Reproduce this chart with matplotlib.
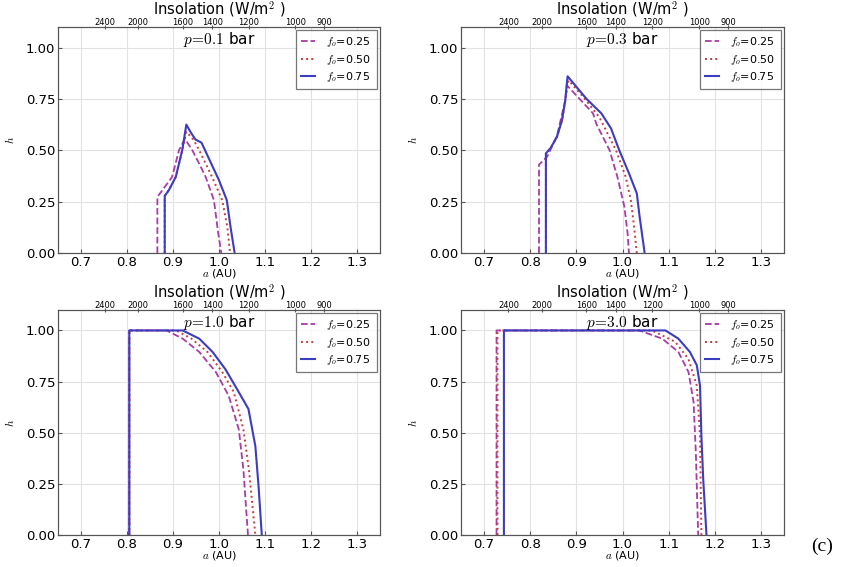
import numpy as np
import matplotlib
matplotlib.use('Agg')
from matplotlib import pyplot as plt
from matplotlib.ticker import FormatStrFormatter

plt.rcParams['mathtext.fontset'] = 'cm'
plt.rcParams['font.family'] = 'DejaVu Sans'

# solar constant used for the insolation axis
S0 = 1360.0
insol_ticks = [2400, 2000, 1600, 1400, 1200, 1000, 900]

fo_labels = ['0.25', '0.50', '0.75']

# p = 0.1 bar
a_p01_f025 = [0.866, 0.866, 0.875, 0.898, 0.913, 0.926, 0.942, 0.958, 0.971, 0.989, 0.998, 1.005]
h_p01_f025 = [0.0, 0.273, 0.30, 0.37, 0.50, 0.555, 0.50, 0.43, 0.37, 0.257, 0.10, 0.0]
a_p01_f050 = [0.882, 0.882, 0.891, 0.906, 0.920, 0.929, 0.945, 0.957, 0.985, 1.007, 1.018, 1.024]
h_p01_f050 = [0.0, 0.278, 0.306, 0.37, 0.50, 0.59, 0.55, 0.50, 0.37, 0.257, 0.128, 0.0]
a_p01_f075 = [0.882, 0.882, 0.891, 0.906, 0.920, 0.929, 0.938, 0.949, 0.962, 0.978, 1.000, 1.017, 1.025, 1.034]
h_p01_f075 = [0.0, 0.278, 0.306, 0.37, 0.50, 0.625, 0.589, 0.552, 0.537, 0.46, 0.354, 0.257, 0.128, 0.0]

# p = 0.3 bar
a_p03_f025 = [0.819, 0.819, 0.826, 0.837, 0.858, 0.876, 0.879, 0.907, 0.936, 0.943, 0.972, 0.989, 1.004, 1.011, 1.014]
h_p03_f025 = [0.0, 0.43, 0.445, 0.47, 0.57, 0.744, 0.817, 0.75, 0.68, 0.63, 0.50, 0.37, 0.226, 0.097, 0.0]
a_p03_f050 = [0.834, 0.834, 0.844, 0.858, 0.869, 0.876, 0.883, 0.915, 0.950, 0.986, 1.007, 1.018, 1.025, 1.031]
h_p03_f050 = [0.0, 0.485, 0.51, 0.566, 0.647, 0.744, 0.84, 0.76, 0.66, 0.50, 0.37, 0.258, 0.13, 0.0]
a_p03_f075 = [0.834, 0.834, 0.844, 0.858, 0.869, 0.876, 0.881, 0.922, 0.954, 0.975, 0.993, 1.014, 1.031, 1.037, 1.048]
h_p03_f075 = [0.0, 0.485, 0.51, 0.566, 0.647, 0.744, 0.86, 0.75, 0.68, 0.607, 0.50, 0.388, 0.29, 0.178, 0.0]

# p = 1.0 bar
a_p10_f025 = [0.805, 0.805, 0.886, 0.921, 0.957, 0.993, 1.021, 1.043, 1.053, 1.063]
h_p10_f025 = [0.0, 1.0, 1.0, 0.96, 0.895, 0.797, 0.681, 0.517, 0.32, 0.0]
a_p10_f050 = [0.805, 0.805, 0.907, 0.940, 0.975, 1.007, 1.032, 1.053, 1.065, 1.079]
h_p10_f050 = [0.0, 1.0, 1.0, 0.96, 0.895, 0.797, 0.70, 0.517, 0.32, 0.0]
a_p10_f075 = [0.805, 0.805, 0.921, 0.957, 0.986, 1.014, 1.039, 1.064, 1.079, 1.086, 1.093]
h_p10_f075 = [0.0, 1.0, 1.0, 0.96, 0.895, 0.81, 0.714, 0.616, 0.435, 0.238, 0.0]

# p = 3.0 bar
a_p30_f025 = [0.727, 0.727, 1.036, 1.086, 1.121, 1.143, 1.154, 1.159, 1.164]
h_p30_f025 = [0.0, 1.0, 1.0, 0.96, 0.895, 0.797, 0.65, 0.40, 0.0]
a_p30_f050 = [0.729, 0.729, 1.064, 1.114, 1.143, 1.161, 1.168, 1.171]
h_p30_f050 = [0.0, 1.0, 1.0, 0.945, 0.86, 0.73, 0.484, 0.0]
a_p30_f075 = [0.743, 0.743, 1.093, 1.121, 1.146, 1.161, 1.168, 1.171, 1.175, 1.182]
h_p30_f075 = [0.0, 1.0, 1.0, 0.96, 0.895, 0.83, 0.73, 0.484, 0.27, 0.0]

panels = [
    ('0.1', [(a_p01_f025, h_p01_f025), (a_p01_f050, h_p01_f050), (a_p01_f075, h_p01_f075)]),
    ('0.3', [(a_p03_f025, h_p03_f025), (a_p03_f050, h_p03_f050), (a_p03_f075, h_p03_f075)]),
    ('1.0', [(a_p10_f025, h_p10_f025), (a_p10_f050, h_p10_f050), (a_p10_f075, h_p10_f075)]),
    ('3.0', [(a_p30_f025, h_p30_f025), (a_p30_f050, h_p30_f050), (a_p30_f075, h_p30_f075)]),
]

styles = [
    dict(color='#a83ca8', ls='--', lw=1.3),
    dict(color='#c83c3c', ls=':', lw=1.4),
    dict(color='#3c3cc0', ls='-', lw=1.5),
]

W, H = 847, 567
fig = plt.figure(figsize=(W / 100, H / 100), dpi=100)

# axes boxes in pixels: left, top, right, bottom
boxes = [(58, 27, 380, 253), (461, 27, 784, 253),
         (58, 310, 380, 535), (461, 310, 784, 535)]

spine_col = '#555555'

for (pres, series), (l, t, r, b) in zip(panels, boxes):
    ax = fig.add_axes([l / W, 1 - b / H, (r - l) / W, (b - t) / H])
    for (a, h), st, lab in zip(series, styles, fo_labels):
        ax.plot(a, h, label=r'$f_o$=' + lab, **st)

    ax.set_xlim(0.65, 1.35)
    ax.set_ylim(0, 1.1)
    ax.set_xticks(np.arange(0.7, 1.31, 0.1))
    ax.set_yticks([0, 0.25, 0.5, 0.75, 1.0])
    ax.xaxis.set_major_formatter(FormatStrFormatter('%.1f'))
    ax.yaxis.set_major_formatter(FormatStrFormatter('%.2f'))
    ax.tick_params(direction='in', length=3, labelsize=9.5, color=spine_col, pad=2)
    ax.grid(True, color='#e2e2e2', lw=0.8)
    for sp in ax.spines.values():
        sp.set_color(spine_col)
    ax.set_xlabel(r'$a$ (AU)', fontsize=8, labelpad=-1)
    ax.set_ylabel(r'$h$', fontsize=8, labelpad=7)

    ax.text(0.5, 0.985, r'$p\!=\!' + pres + r'$ bar', transform=ax.transAxes,
            ha='center', va='top', fontsize=11)

    leg = ax.legend(loc='upper right', fontsize=8, fancybox=False,
                    borderaxespad=0.3, handlelength=1.3, labelspacing=0.3,
                    borderpad=0.45, handletextpad=1.0)
    leg.get_frame().set_edgecolor(spine_col)
    leg.get_frame().set_linewidth(0.9)

    # insolation scale on top
    top = ax.twiny()
    top.set_xlim(ax.get_xlim())
    top.set_xticks(np.sqrt(S0 / np.array(insol_ticks, dtype=float)))
    top.set_xticklabels([str(s) for s in insol_ticks])
    top.tick_params(direction='inout', length=3, labelsize=6, color=spine_col, pad=-1.5)
    top.set_xlabel(r'Insolation (W/m$^2$ )', fontsize=10.5, labelpad=3)
    for sp in top.spines.values():
        sp.set_color(spine_col)

fig.text(822 / W, 1 - 546 / H, '(c)', fontsize=14, family='Liberation Serif',
         ha='center', va='center')

fig.savefig('out.png', dpi=100)
